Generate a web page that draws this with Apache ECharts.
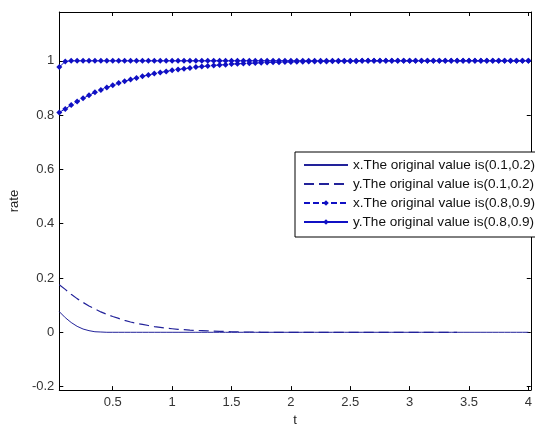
<!DOCTYPE html>
<html>
<head>
<meta charset="utf-8">
<script src="https://cdn.jsdelivr.net/npm/echarts@6/dist/echarts.min.js"></script>
<style>html,body{margin:0;padding:0;background:#fff}#c{width:535px;height:432px}</style>
</head>
<body>
<div id="c"></div>
<script>
var tValues = [0.05,0.1,0.15,0.2,0.25,0.3,0.35,0.4,0.45,0.5,0.55,0.6,0.65,0.7,0.75,0.8,0.85,0.9,0.95,1,
1.05,1.1,1.15,1.2,1.25,1.3,1.35,1.4,1.45,1.5,1.55,1.6,1.65,1.7,1.75,1.8,1.85,1.9,1.95,2,
2.05,2.1,2.15,2.2,2.25,2.3,2.35,2.4,2.45,2.5,2.55,2.6,2.65,2.7,2.75,2.8,2.85,2.9,2.95,3,
3.05,3.1,3.15,3.2,3.25,3.3,3.35,3.4,3.45,3.5,3.55,3.6,3.65,3.7,3.75,3.8,3.85,3.9,3.95,4];

var xLow = [0.076,0.054,0.036,0.022,0.012,0.006,0.002,0.001,0,0,
0,0,0,0,0,0,0,0,0,0,
0,0,0,0,0,0,0,0,0,0,
0,0,0,0,0,0,0,0,0,0,
0,0,0,0,0,0,0,0,0,0,
0,0,0,0,0,0,0,0,0,0,
0,0,0,0,0,0,0,0,0,0,
0,0,0,0,0,0,0,0,0,0];

var yLow = [0.175,0.158,0.140,0.124,0.110,0.097,0.086,0.075,0.066,0.058,
0.051,0.044,0.038,0.033,0.029,0.025,0.021,0.018,0.015,0.013,
0.011,0.010,0.008,0.007,0.006,0.005,0.004,0.003,0.003,0.002,
0.002,0.001,0.001,0.001,0,0,0,0,0,0,
0,0,0,0,0,0,0,0,0,0,
0,0,0,0,0,0,0,0,0,0,
0,0,0,0,0,0,0,0];

var xHigh = [0.810,0.823,0.837,0.850,0.862,0.873,0.884,0.893,0.902,0.910,
0.918,0.925,0.931,0.937,0.943,0.948,0.953,0.957,0.961,0.965,
0.968,0.971,0.974,0.977,0.979,0.981,0.983,0.985,0.986,0.988,
0.989,0.990,0.991,0.992,0.993,0.994,0.995,0.995,0.996,0.996,
0.997,0.997,0.998,0.998,0.998,0.998,0.999,0.999,0.999,0.999,
0.999,1,1,1,1,1,1,1,1,1,
1,1,1,1,1,1,1,1,1,1,
1,1,1,1,1,1,1,1,1,1];

var yHigh = [0.977,0.998,1,1,1,1,1,1,1,1,
1,1,1,1,1,1,1,1,1,1,
1,1,1,1,1,1,1,1,1,1,
1,1,1,1,1,1,1,1,1,1,
1,1,1,1,1,1,1,1,1,1,
1,1,1,1,1,1,1,1,1,1,
1,1,1,1,1,1,1,1,1,1,
1,1,1,1,1,1,1,1,1,1];

var seriesNames = [
  'x.The original value is(0.1,0.2)',
  'y.The original value is(0.1,0.2)',
  'x.The original value is(0.8,0.9)',
  'y.The original value is(0.8,0.9)'
];
var xTicks = [0.5,1,1.5,2,2.5,3,3.5,4];
var yTicks = [-0.2,0,0.2,0.4,0.6,0.8,1];

function pairs(vals){ return vals.map(function(v,i){ return [tValues[i], v]; }); }

var FONT = '"Liberation Sans", Arial, sans-serif';
var LINE = '#22229a';
var MARK = '#1010c4';

var chart = echarts.init(document.getElementById('c'), null, {renderer:'canvas'});
var axisCommon = {
  type:'value', splitLine:{show:false},
  axisLine:{show:true, onZero:false, lineStyle:{color:'#000', width:1}},
  axisTick:{show:true, inside:true, length:4, lineStyle:{color:'#000'}}
};
chart.setOption({
  animation:false,
  backgroundColor:'#fff',
  grid:{left:57, right:4, top:12, bottom:34, containLabel:false},
  xAxis:[
    Object.assign({}, axisCommon, {min:0.05, max:4.02, position:'bottom',
      name:'t', nameLocation:'middle', nameGap:22,
      nameTextStyle:{fontFamily:FONT, fontSize:13, color:'#222'},
      axisTick:{show:true, inside:true, length:4, customValues:xTicks, lineStyle:{color:'#000'}},
      axisLabel:{show:true, customValues:xTicks, margin:6, fontFamily:FONT, fontSize:13, color:'#333'}}),
    Object.assign({}, axisCommon, {min:0.05, max:4.02, position:'top',
      axisTick:{show:true, inside:true, length:4, customValues:xTicks, lineStyle:{color:'#000'}},
      axisLabel:{show:false}})
  ],
  yAxis:[
    Object.assign({}, axisCommon, {min:-0.213, max:1.18, position:'left',
      name:'rate', nameLocation:'middle', nameGap:36,
      nameTextStyle:{fontFamily:FONT, fontSize:13, color:'#222'},
      axisTick:{show:true, inside:true, length:4, customValues:yTicks, lineStyle:{color:'#000'}},
      axisLabel:{show:true, customValues:yTicks, margin:5, fontFamily:FONT, fontSize:13, color:'#333'}}),
    Object.assign({}, axisCommon, {min:-0.213, max:1.18, position:'right',
      axisTick:{show:true, inside:true, length:4, customValues:yTicks, lineStyle:{color:'#000'}},
      axisLabel:{show:false}})
  ],
  legend:{
    orient:'vertical', left:295, top:152,
    padding:[6,4,8,8], itemWidth:44, itemHeight:7, itemGap:5,
    backgroundColor:'#fff', borderColor:'#000', borderWidth:1, borderRadius:0,
    textStyle:{fontFamily:FONT, fontSize:13.6, color:'#111', lineHeight:14},
    data:[
      {name:seriesNames[0], itemStyle:{opacity:0}},
      {name:seriesNames[1], itemStyle:{opacity:0}},
      {name:seriesNames[2]},
      {name:seriesNames[3]}
    ]
  },
  series:[
    {name:seriesNames[0], type:'line', data:pairs(xLow), symbol:'none',
      lineStyle:{color:LINE, width:1, type:'solid'}, itemStyle:{color:LINE}},
    {name:seriesNames[1], type:'line', data:pairs(yLow), symbol:'none',
      lineStyle:{color:LINE, width:1.2, type:[10,5]}, itemStyle:{color:LINE}},
    {name:seriesNames[2], type:'line', data:pairs(xHigh), symbol:'diamond', symbolSize:6, showAllSymbol:true,
      lineStyle:{color:MARK, width:1, type:[6,3]}, itemStyle:{color:MARK}},
    {name:seriesNames[3], type:'line', data:pairs(yHigh), symbol:'diamond', symbolSize:6, showAllSymbol:true,
      lineStyle:{color:MARK, width:1, type:'solid'}, itemStyle:{color:MARK}}
  ]
});
</script>
</body>
</html>
